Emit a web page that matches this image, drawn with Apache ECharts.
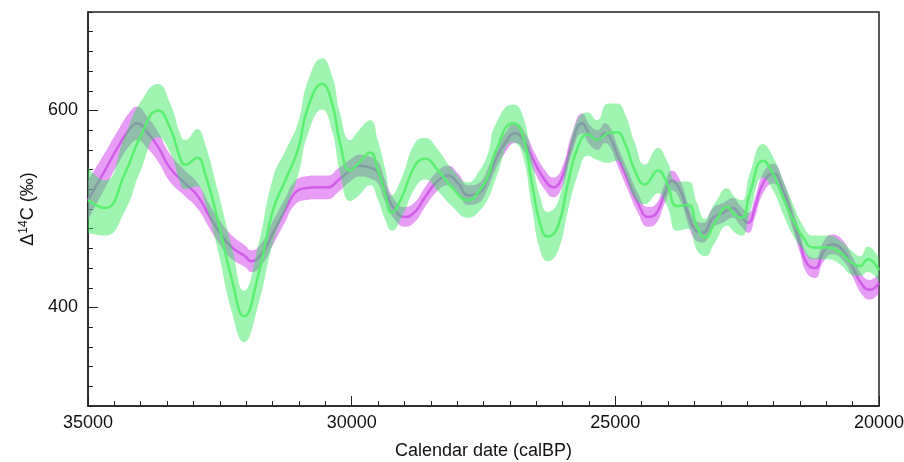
<!DOCTYPE html>
<html>
<head>
<meta charset="utf-8">
<script src="https://cdn.jsdelivr.net/npm/echarts@6/dist/echarts.min.js"></script>
<style>
  html, body { margin: 0; padding: 0; background: #fff; }
  #chart { width: 904px; height: 462px; }
</style>
</head>
<body>
<div id="chart"></div>
<script>
// green curve: calendar age, mean, half width of the band
var greenYears = [35000, 34680, 34300, 34010, 33670, 33450, 33220, 33160, 32930, 32780, 32540, 32270, 32040, 31780, 31490, 31250,
  31020, 30830, 30560, 30370, 30220, 30030, 29880, 29650, 29500, 29370, 29240, 29050, 28800, 28610, 28360, 28100,
  27790, 27600, 27410, 27280, 26940, 26770, 26580, 26430, 26280, 26090, 25900, 25710, 25520, 25350, 25140, 24970,
  24820, 24630, 24440, 24190, 24020, 23830, 23620, 23450, 23300, 23110, 22880, 22730, 22600, 22450, 22200, 22010,
  21820, 21630, 21440, 21250, 20990, 20740, 20510, 20360, 20210, 20000];
var greenMean = [509, 501, 536, 573, 600, 583, 547, 545, 552, 536, 489, 428, 391, 431, 499, 530,
  560, 603, 627, 607, 567, 539, 546, 557, 539, 516, 496, 512, 544, 551, 539, 522,
  509, 517, 534, 557, 587, 577, 526, 486, 472, 482, 526, 563, 576, 570, 577, 578,
  567, 539, 525, 539, 526, 503, 504, 482, 471, 486, 502, 494, 491, 516, 549, 536,
  512, 489, 471, 461, 461, 456, 445, 442, 449, 438];
var greenErr = [33, 28, 38, 35, 27, 25, 25, 25, 29, 30, 30, 33, 26, 30, 33, 30,
  27, 27, 26, 28, 30, 31, 33, 33, 30, 26, 18, 20, 23, 21, 21, 19,
  18, 20, 23, 28, 19, 20, 25, 27, 25, 25, 28, 28, 22, 20, 30, 29,
  30, 28, 20, 23, 23, 25, 24, 24, 19, 20, 19, 18, 18, 20, 17, 17,
  17, 16, 12, 12, 12, 12, 12, 10, 13, 12];

// magenta curve
var magYears = [35000, 34680, 34430, 34200, 34070, 33880, 33670, 33450, 33160, 32930, 32690, 32500, 32270, 32020, 31910, 31700,
  31490, 31260, 31080, 30890, 30640, 30450, 30260, 30030, 29840, 29650, 29500, 29370, 29180, 28990, 28800, 28610,
  28360, 28170, 27980, 27790, 27600, 27410, 27280, 27090, 26900, 26710, 26520, 26330, 26180, 26010, 25820, 25630,
  25480, 25330, 25200, 25100, 24950, 24760, 24570, 24380, 24250, 24060, 23930, 23770, 23620, 23490, 23340, 23150,
  22960, 22770, 22640, 22480, 22350, 22200, 22010, 21820, 21630, 21500, 21370, 21210, 21060, 20890, 20700, 20510,
  20320, 20170, 20000];
var magMean = [509, 539, 563, 582, 587, 578, 563, 542, 526, 514, 492, 476, 461, 452, 447, 455,
  476, 499, 516, 521, 522, 522, 529, 539, 544, 542, 537, 519, 499, 492, 497, 512,
  529, 534, 526, 514, 516, 532, 549, 567, 577, 567, 546, 529, 522, 532, 567, 587,
  575, 570, 577, 573, 553, 529, 506, 492, 494, 516, 529, 519, 495, 479, 476, 491,
  496, 501, 494, 486, 502, 526, 536, 519, 489, 466, 445, 440, 456, 464, 459, 442,
  423, 418, 425];
var magErr = [20, 18, 17, 17, 17, 16, 15, 14, 13, 13, 12, 12, 12, 11, 11, 11,
  12, 12, 12, 12, 12, 12, 12, 11, 11, 11, 11, 11, 10, 10, 10, 10,
  10, 10, 10, 10, 10, 10, 10, 10, 10, 10, 10, 10, 10, 10, 10, 10,
  10, 10, 10, 10, 10, 10, 10, 10, 10, 10, 10, 10, 10, 10, 10, 10,
  10, 10, 10, 10, 10, 10, 10, 10, 10, 10, 10, 10, 10, 10, 10, 10,
  10, 10, 10];

var xMajor = [35000, 30000, 25000, 20000];
var yMajor = [400, 600];

var font = 'Liberation Sans, Arial, sans-serif';

// band = invisible lower line + stacked width with area fill
// value goes first in each pair so the stack is done on y, not on x
function band(years, mean, err, name, fill, line, z) {
  var lo = [], wd = [], mid = [];
  for (var i = 0; i < years.length; i++) {
    lo.push([mean[i] - err[i], years[i]]);
    wd.push([2 * err[i], years[i]]);
    mid.push([years[i], mean[i]]);
  }
  return [{
    name: name + 'lo', type: 'line', stack: name, data: lo, encode: { x: 1, y: 0 }, smooth: 0.5,
    symbol: 'none', lineStyle: { opacity: 0 }, silent: true, z: z
  }, {
    name: name + 'band', type: 'line', stack: name, data: wd, encode: { x: 1, y: 0 }, smooth: 0.5,
    symbol: 'none', lineStyle: { opacity: 0 }, areaStyle: { color: fill, opacity: 1 }, silent: true, z: z
  }, {
    name: name, type: 'line', data: mid, smooth: 0.5,
    symbol: 'none', lineStyle: { color: line, width: 2.5 }, silent: true, z: z + 1
  }];
}

var minorX = [];
for (var v = 20500; v < 35000; v += 500) {
  if (v % 5000 !== 0) minorX.push(v);
}

var chart = echarts.init(document.getElementById('chart'));
var option = {
  animation: false,
  backgroundColor: '#fff',
  textStyle: { fontFamily: font },
  grid: {
    left: 88, right: 25, top: 12, bottom: 56, containLabel: false, outerBoundsMode: 'none',
    show: true, borderColor: '#222', borderWidth: 1.5, backgroundColor: 'transparent'
  },
  xAxis: [{
    type: 'value', min: 20000, max: 35000, inverse: true, interval: 500,
    axisLine: { show: true, lineStyle: { color: '#222', width: 1.5 } },
    axisTick: { show: true, inside: true, length: 5, customValues: minorX, lineStyle: { color: '#222' } },
    axisLabel: { show: false },
    splitLine: { show: false }
  }, {
    type: 'value', min: 20000, max: 35000, inverse: true, interval: 5000, position: 'bottom',
    axisLine: { show: false },
    axisTick: { show: true, inside: true, length: 10, customValues: xMajor, lineStyle: { color: '#222' } },
    axisLabel: {
      show: true, customValues: xMajor, fontSize: 18, color: '#111', margin: 8, fontFamily: font,
      formatter: function (v) { return String(v); }
    },
    splitLine: { show: false },
    name: 'Calendar date (calBP)', nameLocation: 'middle', nameGap: 36,
    nameTextStyle: { fontSize: 18, color: '#111', fontFamily: font }
  }],
  yAxis: [{
    type: 'value', min: 300, max: 700, interval: 20,
    axisLine: { show: true, lineStyle: { color: '#222', width: 1.5 } },
    axisTick: { show: true, inside: true, length: 5, lineStyle: { color: '#222' } },
    axisLabel: { show: false },
    splitLine: { show: false }
  }, {
    type: 'value', min: 300, max: 700, interval: 100, position: 'left',
    axisLine: { show: false },
    axisTick: { show: true, inside: true, length: 10, customValues: yMajor, lineStyle: { color: '#222' } },
    axisLabel: {
      show: true, customValues: yMajor, fontSize: 18, color: '#111', margin: 10, fontFamily: font,
      formatter: function (v) { return String(v); }
    },
    splitLine: { show: false },
    name: '{n|Δ}{s|14}{n|C (‰)}', nameLocation: 'middle', nameGap: 46, nameRotate: 90,
    nameTextStyle: {
      fontFamily: font, color: '#111',
      rich: {
        n: { fontSize: 18, fontFamily: font, color: '#111' },
        s: { fontSize: 12, fontFamily: font, color: '#111', padding: [0, 0, 9, 0] }
      }
    }
  }],
  series: [].concat(
    band(magYears, magMean, magErr, 'm', 'rgba(208, 60, 235, 0.5)', 'rgba(205, 85, 232, 0.9)', 2),
    band(greenYears, greenMean, greenErr, 'g', 'rgba(40, 230, 80, 0.45)', 'rgba(85, 238, 110, 0.95)', 4)
  )
};
chart.setOption(option);
</script>
</body>
</html>
